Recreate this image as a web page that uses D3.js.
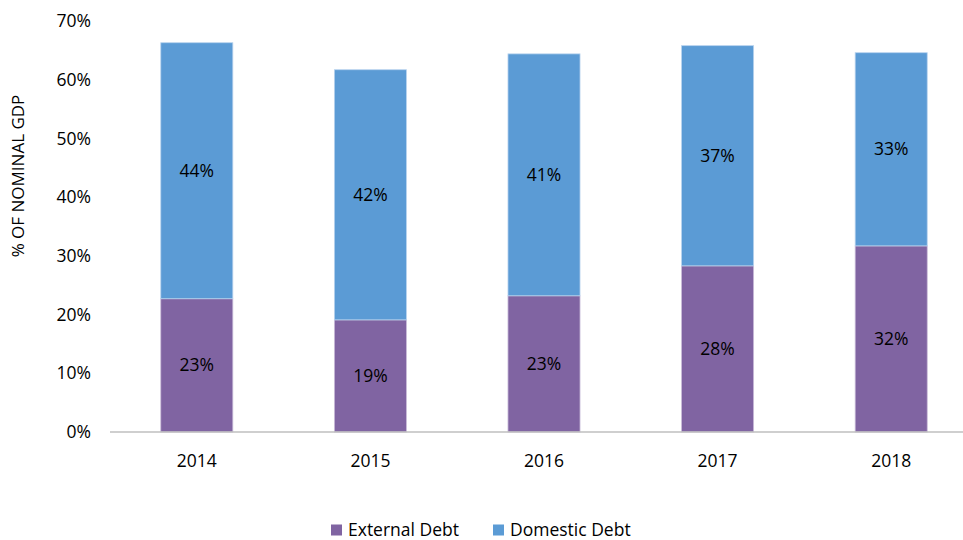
<!DOCTYPE html>
<html lang="en">
<head>
    <script src="https://d3js.org/d3.v7.min.js"></script>
    <style>
        body { margin: 0; background: #fff; }
        text { font-family: "Open Sans", "Liberation Sans", sans-serif; fill: #000; }
    </style>
</head>
<body>
<script>
    // data
    var years = ["2014", "2015", "2016", "2017", "2018"];
    var externalDebt = [22.7, 19.1, 23.2, 28.3, 31.7];
    var domesticDebt = [43.6, 42.6, 41.2, 37.5, 32.9];
    var externalLabels = ["23%", "19%", "23%", "28%", "32%"];
    var domesticLabels = ["44%", "42%", "41%", "37%", "33%"];
    var yTicks = [0, 10, 20, 30, 40, 50, 60, 70];

    var width = 963, height = 540;
    var purple = "#8064a2", blue = "#5b9bd5";

    var svg = d3.select("body").append("svg")
        .attr("width", width)
        .attr("height", height);

    var x = d3.scaleBand()
        .domain(years)
        .range([110, 978])
        .paddingInner(0.585)
        .paddingOuter(0.2925);

    var y = d3.scaleLinear()
        .domain([0, 70])
        .range([432, 21]);

    // y tick labels (no gridlines in the original)
    svg.selectAll(".ytick")
        .data(yTicks)
        .enter().append("text")
        .attr("x", 91)
        .attr("y", function(d) { return y(d); })
        .attr("dy", "0.35em")
        .attr("text-anchor", "end")
        .style("font-size", "17.5px")
        .text(function(d) { return d + "%"; });

    svg.append("text")
        .attr("transform", "translate(24,176) rotate(-90)")
        .attr("text-anchor", "middle")
        .style("font-size", "17px")
        .text("% OF NOMINAL GDP");

    // stacked bars
    var bars = svg.selectAll(".bar")
        .data(years)
        .enter().append("g");

    bars.append("rect")
        .attr("x", function(d) { return x(d); })
        .attr("width", x.bandwidth())
        .attr("y", function(d, i) { return y(externalDebt[i]); })
        .attr("height", function(d, i) { return y(0) - y(externalDebt[i]); })
        .attr("fill", purple)
        .attr("stroke", "#c9bcd9")
        .attr("stroke-width", 0.8);

    bars.append("rect")
        .attr("x", function(d) { return x(d); })
        .attr("width", x.bandwidth())
        .attr("y", function(d, i) { return y(externalDebt[i] + domesticDebt[i]); })
        .attr("height", function(d, i) { return y(externalDebt[i]) - y(externalDebt[i] + domesticDebt[i]); })
        .attr("fill", blue)
        .attr("stroke", "#b8d3ee")
        .attr("stroke-width", 0.8);

    bars.append("text")
        .attr("x", function(d) { return x(d) + x.bandwidth() / 2; })
        .attr("y", function(d, i) { return y(externalDebt[i] / 2); })
        .attr("dy", "0.35em")
        .attr("text-anchor", "middle")
        .style("font-size", "17.5px")
        .text(function(d, i) { return externalLabels[i]; });

    bars.append("text")
        .attr("x", function(d) { return x(d) + x.bandwidth() / 2; })
        .attr("y", function(d, i) { return y(externalDebt[i] + domesticDebt[i] / 2); })
        .attr("dy", "0.35em")
        .attr("text-anchor", "middle")
        .style("font-size", "17.5px")
        .text(function(d, i) { return domesticLabels[i]; });

    // x axis line and year labels
    svg.append("line")
        .attr("x1", 110).attr("x2", 978)
        .attr("y1", y(0)).attr("y2", y(0))
        .attr("stroke", "#bfbfbf")
        .attr("stroke-width", 1.5);

    svg.selectAll(".xlab")
        .data(years)
        .enter().append("text")
        .attr("x", function(d) { return x(d) + x.bandwidth() / 2; })
        .attr("y", 461)
        .attr("dy", "0.35em")
        .attr("text-anchor", "middle")
        .style("font-size", "17.5px")
        .text(function(d) { return d; });

    // legend
    var legendItems = [
        { name: "External Debt", color: purple, x: 331 },
        { name: "Domestic Debt", color: blue, x: 493 }
    ];
    var lg = svg.selectAll(".legend")
        .data(legendItems)
        .enter().append("g")
        .attr("transform", function(d) { return "translate(" + d.x + ",530)"; });
    lg.append("rect")
        .attr("x", 0).attr("y", -5.5)
        .attr("width", 11).attr("height", 11)
        .attr("fill", function(d) { return d.color; });
    lg.append("text")
        .attr("x", 17)
        .attr("dy", "0.35em")
        .style("font-size", "17.5px")
        .text(function(d) { return d.name; });
</script>
</body>
</html>
